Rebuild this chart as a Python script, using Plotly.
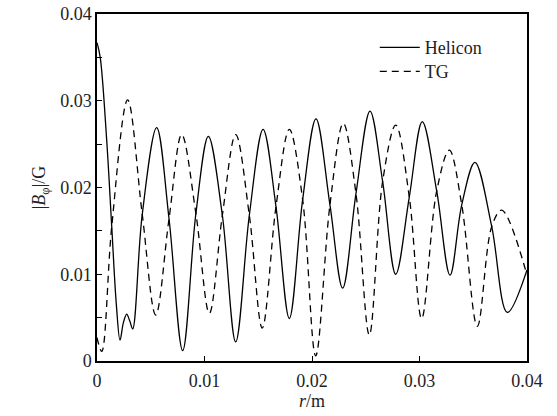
import plotly.graph_objects as go

# Helicon (solid)
helicon_r = [0, 0.0003, 0.0009, 0.00137, 0.0018, 0.00214, 0.00245, 0.00276, 0.00305, 0.00332,
             0.0042, 0.00555, 0.0067, 0.00797, 0.0092, 0.01036, 0.01166, 0.0129, 0.01417,
             0.01545, 0.01665, 0.01789, 0.01913, 0.02037, 0.02167, 0.02285, 0.02409, 0.0254,
             0.02657, 0.02779, 0.02905, 0.03026, 0.0316, 0.03284, 0.03393, 0.03516, 0.03672,
             0.03817, 0.0400]
helicon_b = [0.0367, 0.0350, 0.0255, 0.0155, 0.0065, 0.0024, 0.0044, 0.0054, 0.0046, 0.0037,
             0.0168, 0.0269, 0.0164, 0.0012, 0.0170, 0.0259, 0.0168, 0.0022, 0.0168,
             0.0267, 0.0178, 0.0049, 0.0186, 0.0279, 0.0180, 0.0084, 0.0193, 0.0288,
             0.0207, 0.0100, 0.0189, 0.0276, 0.0196, 0.0099, 0.0180, 0.0229, 0.0155,
             0.0056, 0.0105]

# TG (dashed)
tg_r = [0, 0.00044, 0.00137, 0.00285, 0.0042, 0.00546, 0.0067, 0.00788, 0.0092, 0.01045,
        0.01166, 0.0129, 0.01417, 0.01537, 0.01665, 0.01789, 0.01913, 0.02034, 0.02167,
        0.02291, 0.02409, 0.02533, 0.02657, 0.02779, 0.02905, 0.0302, 0.0316, 0.03277,
        0.03393, 0.03538, 0.03672, 0.03765, 0.0400]
tg_b = [0.0027, 0.0011, 0.0155, 0.0301, 0.0170, 0.0053, 0.0164, 0.0261, 0.0170, 0.0055,
        0.0168, 0.0261, 0.0168, 0.0038, 0.0178, 0.0267, 0.0186, 0.0006, 0.0180,
        0.0274, 0.0193, 0.0030, 0.0207, 0.0272, 0.0189, 0.0049, 0.0196, 0.0243,
        0.0180, 0.0040, 0.0155, 0.0174, 0.0099]

x_ticks = [0, 0.01, 0.02, 0.03, 0.04]
x_labels = ["0", "0.01", "0.02", "0.03", "0.04"]
y_ticks = [0, 0.01, 0.02, 0.03, 0.04]
y_labels = ["0", "0.01", "0.02", "0.03", "0.04"]

FONT = "Liberation Serif"
TXT = "#222"

fig = go.Figure()
fig.add_trace(go.Scatter(x=helicon_r, y=helicon_b, mode="lines", name="Helicon",
                         legend="legend",
                         line=dict(color="black", width=1.3, shape="spline", smoothing=1.0)))
fig.add_trace(go.Scatter(x=tg_r, y=tg_b, mode="lines", name="TG",
                         legend="legend2",
                         line=dict(color="black", width=1.3, dash="7px,5px",
                                   shape="spline", smoothing=1.0)))

axis_common = dict(showline=True, linecolor="black", linewidth=1.5, mirror=True,
                   showgrid=False, zeroline=False, ticks="inside", ticklen=5,
                   tickcolor="black", tickwidth=1, automargin=False,
                   tickfont=dict(family=FONT, size=18, color=TXT))

fig.update_xaxes(range=[0, 0.04], tickvals=x_ticks, ticktext=x_labels,
                 ticklabelstandoff=3,
                 title=dict(text="<i>r</i>/m", font=dict(family=FONT, size=18, color=TXT),
                            standoff=4),
                 **axis_common)
fig.update_yaxes(range=[0, 0.04], tickvals=y_ticks, ticktext=y_labels,
                 minor=dict(dtick=0.005, ticks="inside", ticklen=5, tickcolor="black"),
                 title=dict(text="|<i>B</i><sub>φ</sub>|/G",
                            font=dict(family=FONT, size=18, color=TXT), standoff=10),
                 **axis_common)

leg_common = dict(xanchor="left", yanchor="middle", bgcolor="rgba(0,0,0,0)",
                  borderwidth=0, font=dict(family=FONT, size=18, color=TXT), itemwidth=40)

fig.update_layout(
    width=557, height=416,
    margin=dict(l=97, r=30, t=14, b=55),
    plot_bgcolor="white", paper_bgcolor="white",
    showlegend=True,
    legend=dict(x=0.646, y=0.903, **leg_common),
    legend2=dict(x=0.646, y=0.834, **leg_common),
)

fig.write_html("out.html")
